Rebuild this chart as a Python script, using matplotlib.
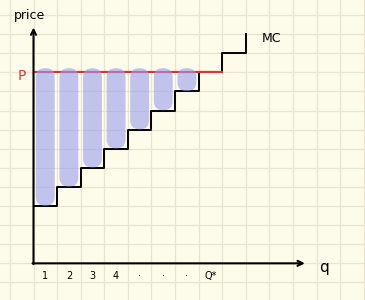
import numpy as np
import matplotlib
matplotlib.use('Agg')
import matplotlib.pyplot as plt
from matplotlib.patches import FancyBboxPatch

# DATOS
q_edges = [0, 1, 2, 3, 4, 5, 6, 7, 8, 9]
mc = [3, 4, 5, 6, 7, 8, 9, 10, 11, 12]
price = 10
q_star = 8
tick_pos = [0.5, 1.5, 2.5, 3.5, 4.5, 5.5, 6.5, 7.5]
tick_labels = ['1', '2', '3', '4', '·', '·', '·', 'Q*']

# COLORES
bg = '#fdfbea'
grid_c = '#e8e4cf'
bar_c = '#9a9ef0'
red = '#d23a3a'

fig = plt.figure(figsize=(3.65, 3.0), dpi=100, facecolor=bg)
ax = fig.add_axes([0, 0, 1, 1], facecolor=bg)

xmin, xmax = -1.42, 14.05
ymin, ymax = -1.92, 13.79
ax.set_xlim(xmin, xmax)
ax.set_ylim(ymin, ymax)

# cuadricula
ax.set_xticks(np.arange(-1, 15))
ax.set_yticks(np.arange(-1, 14))
ax.grid(True, color=grid_c, lw=0.9)
ax.set_axisbelow(True)
ax.tick_params(length=0, labelbottom=False, labelleft=False)
for s in ax.spines.values():
    s.set_visible(False)

# aspecto de pixeles para redondear las barras
px_x = fig.get_figwidth() * fig.dpi / (xmax - xmin)
px_y = fig.get_figheight() * fig.dpi / (ymax - ymin)
aspect = px_x / px_y

# MC escalonado
ax.step(q_edges, mc, where='post', color='black', lw=1.4, zorder=3)

# linea de precio
ax.plot([0, q_star], [price, price], color=red, lw=1.6, zorder=4)

# barras de excedente
for q, m in zip(q_edges, mc):
    if m >= price:
        continue
    bot = m + 0.02
    top = price + 0.22
    b = FancyBboxPatch((q + 0.1, bot), 0.8, top - bot,
                       boxstyle='round,pad=0,rounding_size=0.38',
                       mutation_aspect=aspect,
                       fc=bar_c, ec='none', alpha=0.6, zorder=5)
    ax.add_patch(b)

# ejes con flecha
arrow = dict(arrowstyle='->', lw=1.5, color='black', shrinkA=0, shrinkB=0,
             mutation_scale=9)
ax.annotate('', xy=(0, 12.35), xytext=(0, -0.04), arrowprops=arrow, zorder=7)
ax.annotate('', xy=(11.5, 0), xytext=(-0.04, 0), arrowprops=arrow, zorder=7)

# textos
ax.text(-0.15, 13.0, 'price', fontsize=9, ha='center', va='center')
ax.text(-0.5, price - 0.2, 'P', fontsize=10, color=red, ha='center', va='center')
ax.text(10.1, 11.8, 'MC', fontsize=9, ha='center', va='center')
ax.text(12.3, -0.2, 'q', fontsize=11, ha='center', va='center')
for x, lab in zip(tick_pos, tick_labels):
    ax.text(x, -0.68, lab, fontsize=7, ha='center', va='center')

fig.savefig('out.png', dpi=100, facecolor=bg)
